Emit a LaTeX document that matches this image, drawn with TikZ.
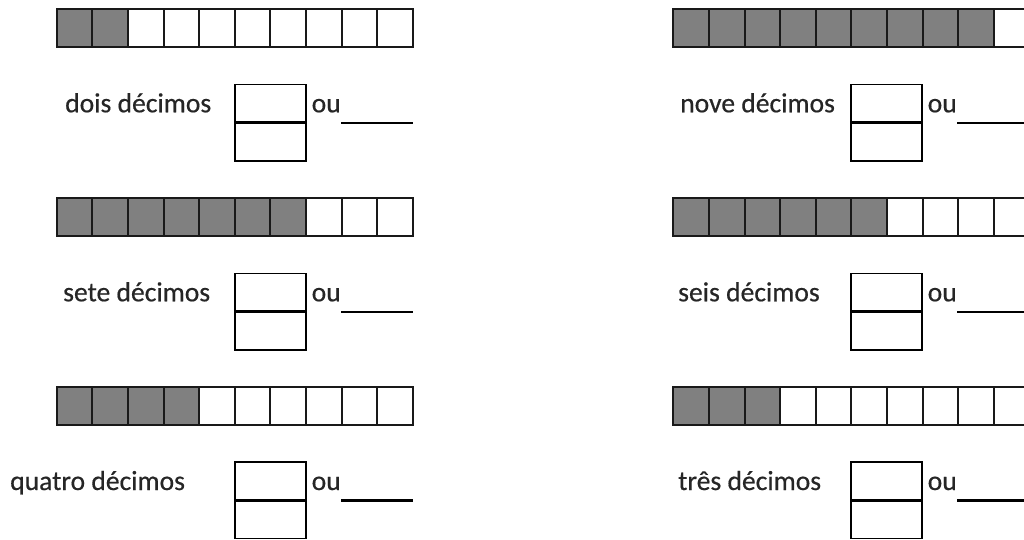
\documentclass[tikz,border=0pt]{standalone}
\usepackage{fontspec}
\setmainfont{Carlito}
\newfontfamily\lblfont{Carlito}[FakeBold=0.5]
\begin{document}
\begin{tikzpicture}[x={(1pt,0)},y={(0,-1pt)},
  cell/.style={draw=black!90,line width=2pt},
  shaded/.style={cell,fill=black!50},
  fracbox/.style={draw=black,line width=1.6pt},
  fracbar/.style={draw=black,line width=3pt},
  answer/.style={draw=black,line width=2.6pt},
  lbl/.style={anchor=base west,inner sep=0pt,font=\lblfont\fontsize{27.6}{31}\selectfont,text=black!85}]
\useasboundingbox (0,0) rectangle (1024,539);
\foreach \x/\y/\n/\lx/\lab/\bx [count=\k] in {
  56.7/9.3/2/65/dois décimos/235,
  56.7/198.3/7/63/sete décimos/235,
  56.7/387/4/10/quatro décimos/235,
  673.3/9.3/9/680/nove décimos/851,
  673.3/198.3/6/678/seis décimos/851,
  673.3/387/3/678/três décimos/851}{
  \foreach \i in {0,...,9}{
    \pgfmathsetmacro{\xa}{\x+35.6*\i}
    \pgfmathsetmacro{\xb}{\x+35.6*(\i+1)}
    \ifnum\i<\n
      \draw[shaded] (\xa,\y) rectangle (\xb,\y+37.7);
    \else
      \draw[cell] (\xa,\y) rectangle (\xb,\y+37.7);
    \fi
  }
  \node[lbl] (label\k) at (\lx,\y+103) {\lab};
  \draw[fracbox] (\bx,\y+75) rectangle (\bx+71,\y+151.5);
  \draw[fracbar] (\bx,\y+113.5) -- (\bx+71,\y+113.5);
  \node[lbl] (ou\k) at (\bx+76.5,\y+103) {ou};
  \coordinate (ansA\k) at (\bx+106,\y+113.5);
  \coordinate (ansB\k) at (\bx+178,\y+113.5);
  \draw[answer] (ansA\k) -- (ansB\k);
}
\end{tikzpicture}
\end{document}
